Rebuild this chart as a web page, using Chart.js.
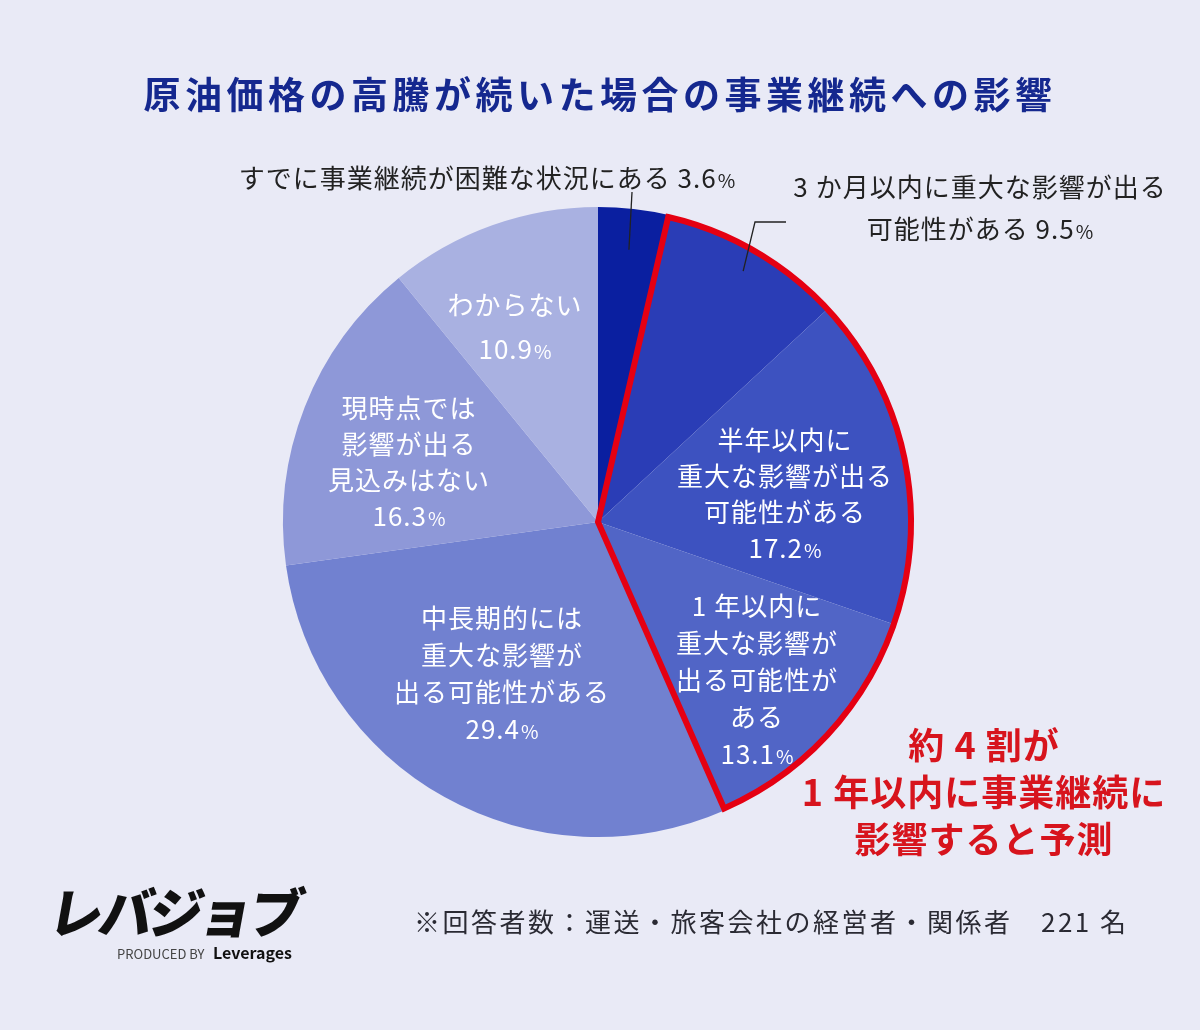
<!DOCTYPE html>
<html>
<head>
<meta charset="utf-8">
<script src="https://cdn.jsdelivr.net/npm/chart.js@4.4.0/dist/chart.umd.min.js"></script>
<style>
  html, body { margin: 0; padding: 0; background: #e9eaf6; }
  #wrap { width: 1200px; height: 1030px; position: relative; }
</style>
</head>
<body>
<div id="wrap"><canvas id="pieChart" width="1200" height="1030"></canvas></div>
<script>
const categories = [
  "すでに事業継続が困難な状況にある",
  "3 か月以内に重大な影響が出る可能性がある",
  "半年以内に重大な影響が出る可能性がある",
  "1 年以内に重大な影響が出る可能性がある",
  "中長期的には重大な影響が出る可能性がある",
  "現時点では影響が出る見込みはない",
  "わからない"
];
const shares = [3.6, 9.5, 17.2, 13.1, 29.4, 16.3, 10.9];
const sliceColors = ["#0a1fa0", "#2a3db6", "#3d52c0", "#5165c6", "#7181d0", "#8e98d8", "#a9b1e1"];
// slices wrapped by the red outline
const highlighted = [1, 2, 3];

const titleText = "原油価格の高騰が続いた場合の事業継続への影響";
const noteText = "※回答者数：運送・旅客会社の経営者・関係者　221 名";
const calloutLines = ["約 4 割が", "1 年以内に事業継続に", "影響すると予測"];

const JP = '"Noto Sans CJK JP", "Noto Sans", sans-serif';

// label text blocks: lines, the value goes last with a smaller % sign
const labelBlocks = [
  { lines: ["すでに事業継続が困難な状況にある " + shares[0]], x: 487, y: 178, color: "#222", inline: true },
  { lines: ["3 か月以内に重大な影響が出る", "可能性がある " + shares[1]], x: 980, y: 187, gap: 42, color: "#222", inline: true },
  { lines: ["半年以内に", "重大な影響が出る", "可能性がある", shares[2].toFixed(1)], x: 785, y: 440, gap: 36, color: "#fff" },
  { lines: ["1 年以内に", "重大な影響が", "出る可能性が", "ある", shares[3].toFixed(1)], x: 757, y: 606, gap: 37, color: "#fff" },
  { lines: ["中長期的には", "重大な影響が", "出る可能性がある", shares[4].toFixed(1)], x: 502, y: 618, gap: 37, color: "#fff" },
  { lines: ["現時点では", "影響が出る", "見込みはない", shares[5].toFixed(1)], x: 409, y: 408, gap: 36, color: "#fff" },
  { lines: ["わからない", shares[6].toFixed(1)], x: 515, y: 305, gap: 44, color: "#fff" }
];

function drawWithPct(ctx, text, x, y, size, color) {
  ctx.fillStyle = color;
  ctx.textBaseline = "middle";
  ctx.font = size + "px " + JP;
  const w1 = ctx.measureText(text).width;
  ctx.font = Math.round(size * 0.72) + "px " + JP;
  const w2 = ctx.measureText("%").width;
  const left = x - (w1 + w2) / 2;
  ctx.textAlign = "left";
  ctx.font = size + "px " + JP;
  ctx.fillText(text, left, y);
  ctx.font = Math.round(size * 0.72) + "px " + JP;
  ctx.fillText("%", left + w1 + 1, y + size * 0.1);
}

const overlayPlugin = {
  id: "overlay",
  afterDatasetsDraw(chart) {
    const ctx = chart.ctx;
    const arcs = chart.getDatasetMeta(0).data;
    const first = arcs[highlighted[0]];
    const last = arcs[highlighted[highlighted.length - 1]];
    ctx.save();
    ctx.beginPath();
    ctx.moveTo(first.x, first.y);
    ctx.arc(first.x, first.y, first.outerRadius - 2, first.startAngle, last.endAngle);
    ctx.closePath();
    ctx.lineWidth = 6;
    ctx.lineJoin = "miter";
    ctx.strokeStyle = "#e50012";
    ctx.stroke();

    // leader lines
    ctx.strokeStyle = "#222";
    ctx.lineWidth = 1.3;
    const a0 = arcs[0], a1 = arcs[1];
    const m0 = (a0.startAngle + a0.endAngle) / 2;
    ctx.beginPath();
    ctx.moveTo(a0.x + Math.cos(m0) * a0.outerRadius * 0.87, a0.y + Math.sin(m0) * a0.outerRadius * 0.87);
    ctx.lineTo(632, 192);
    ctx.stroke();
    const m1 = (a1.startAngle + a1.endAngle) / 2;
    ctx.beginPath();
    ctx.moveTo(a1.x + Math.cos(m1) * a1.outerRadius * 0.92, a1.y + Math.sin(m1) * a1.outerRadius * 0.92);
    ctx.lineTo(755, 222);
    ctx.lineTo(786, 222);
    ctx.stroke();
    ctx.restore();
  },
  afterDraw(chart) {
    const ctx = chart.ctx;
    ctx.save();
    // title
    ctx.fillStyle = "#15288f";
    ctx.font = "bold 37px " + JP;
    ctx.textAlign = "center";
    ctx.textBaseline = "middle";
    ctx.letterSpacing = "4.5px";
    ctx.fillText(titleText, 600, 95);

    // slice labels
    ctx.letterSpacing = "1px";
    labelBlocks.forEach(b => {
      b.lines.forEach((line, i) => {
        const y = b.y + i * (b.gap || 0);
        const isLast = i === b.lines.length - 1;
        if (isLast && (b.inline || !isNaN(parseFloat(line)))) {
          drawWithPct(ctx, line, b.x, y, 26, b.color);
        } else {
          ctx.textAlign = "center";
          ctx.fillStyle = b.color;
          ctx.font = "26px " + JP;
          ctx.fillText(line, b.x, y);
        }
      });
    });

    // callout
    ctx.fillStyle = "#d7141d";
    ctx.font = "bold 36px " + JP;
    ctx.letterSpacing = "1px";
    ctx.textAlign = "center";
    calloutLines.forEach((line, i) => ctx.fillText(line, 984, 745 + i * 47));

    // note
    ctx.fillStyle = "#2a2a33";
    ctx.font = "26px " + JP;
    ctx.letterSpacing = "2.5px";
    ctx.textAlign = "left";
    ctx.fillText(noteText, 414, 922);

    // logo
    ctx.save();
    ctx.translate(50, 912);
    ctx.transform(1, 0, -0.18, 1, 0, 0);
    ctx.fillStyle = "#111";
    ctx.font = "900 54px " + JP;
    ctx.textAlign = "left";
    ctx.letterSpacing = "-4px";
    ctx.fillText("レバジョブ", 0, 0);
    ctx.restore();
    ctx.letterSpacing = "0px";
    ctx.textAlign = "left";
    ctx.fillStyle = "#444";
    ctx.font = "13px " + JP;
    ctx.fillText("PRODUCED BY", 117, 954);
    ctx.fillStyle = "#111";
    ctx.font = "bold 16px " + JP;
    ctx.fillText("Leverages", 213, 953);
    ctx.restore();
  }
};

new Chart(document.getElementById("pieChart"), {
  type: "pie",
  data: {
    labels: categories,
    datasets: [{
      data: shares,
      backgroundColor: sliceColors,
      borderWidth: 0
    }]
  },
  options: {
    responsive: false,
    animation: false,
    layout: { padding: { left: 283, right: 287, top: 207, bottom: 193 } },
    plugins: { legend: { display: false }, tooltip: { enabled: false } }
  },
  plugins: [overlayPlugin]
});
</script>
</body>
</html>
